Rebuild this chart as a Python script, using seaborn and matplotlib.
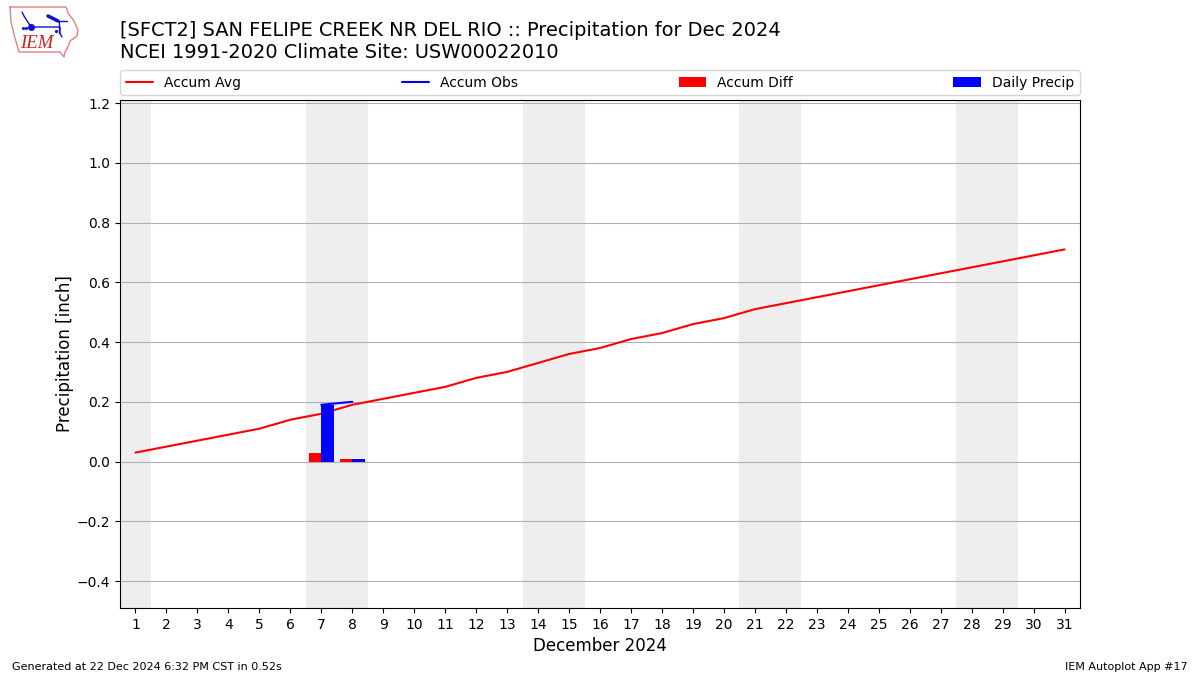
import numpy as np
from matplotlib import pyplot as plt
from matplotlib.lines import Line2D
from matplotlib.patches import Patch
import seaborn as sns

days = list(range(1, 32))
accum_avg = [0.03, 0.05, 0.07, 0.09, 0.11, 0.14, 0.16, 0.19, 0.21, 0.23, 0.25,
             0.28, 0.30, 0.33, 0.36, 0.38, 0.41, 0.43, 0.46, 0.48, 0.51, 0.53,
             0.55, 0.57, 0.59, 0.61, 0.63, 0.65, 0.67, 0.69, 0.71]
obs_days = [7, 8]
accum_obs = [0.19, 0.20]
diff_days = [7, 8]
accum_diff = [0.03, 0.01]
precip_days = [7, 8]
daily_precip = [0.19, 0.01]
weekends = [(0.5, 1.5), (6.5, 8.5), (13.5, 15.5), (20.5, 22.5), (27.5, 29.5)]
yticks = [-0.4, -0.2, 0.0, 0.2, 0.4, 0.6, 0.8, 1.0, 1.2]

# rough outline of the state logo, in pixels from the top left corner
logo_x = [10, 66, 68, 74, 78, 77, 70, 68, 65, 64, 60, 19, 15, 11, 10]
logo_y = [7, 7, 13, 21, 30, 36, 41, 47, 52, 57, 52, 52, 38, 22, 7]

sns.set_style("ticks", {"axes.edgecolor": "black", "text.color": "black",
                        "xtick.color": "black", "ytick.color": "black",
                        "axes.labelcolor": "black"})
plt.rcParams['font.family'] = ['DejaVu Sans']

fig = plt.figure(figsize=(12, 6.75), dpi=100)
ax = fig.add_axes([0.1, 0.0993, 0.8, 0.7525])

for start, end in weekends:
    ax.axvspan(start, end, color="#eeeeee", lw=0, zorder=0)
ax.set_axisbelow(True)
ax.yaxis.grid(True, color="#b0b0b0", lw=0.8, zorder=1)

sns.lineplot(x=days, y=accum_avg, color="red", lw=1.5, ax=ax, zorder=2)
ax.bar(np.array(diff_days) - 0.2, accum_diff, width=0.4, color="red", lw=0, zorder=3)
ax.bar(np.array(precip_days) + 0.2, daily_precip, width=0.4, color="blue", lw=0, zorder=3)
sns.lineplot(x=obs_days, y=accum_obs, color="blue", lw=1.5, ax=ax, zorder=4)

ax.set_xlim(0.5, 31.5)
ax.set_ylim(-0.49, 1.21)
ax.set_xticks(days)
ax.set_yticks(yticks)
ax.tick_params(labelsize=10)
ax.set_xlabel("December 2024", fontsize=12, labelpad=4)
ax.set_ylabel("Precipitation [inch]", fontsize=12, labelpad=2)

handles = [Line2D([], [], color="red", lw=1.5),
           Line2D([], [], color="blue", lw=1.5),
           Patch(color="red", lw=0), Patch(color="blue", lw=0)]
labels = ["Accum Avg", "Accum Obs", "Accum Diff", "Daily Precip"]
ax.legend(handles, labels, loc="lower left", bbox_to_anchor=(0, 1.0095, 1, 0.05),
          mode="expand", ncol=4, fontsize=10, borderaxespad=0, frameon=True)

fig.text(0.1, 0.9085, "[SFCT2] SAN FELIPE CREEK NR DEL RIO :: Precipitation for Dec 2024\n"
         "NCEI 1991-2020 Climate Site: USW00022010", fontsize=13.96, va="bottom", linespacing=1.2)
fig.text(0.01, 0.0075, "Generated at 22 Dec 2024 6:32 PM CST in 0.52s", fontsize=8)
fig.text(0.99, 0.0075, "IEM Autoplot App #17", fontsize=8, ha="right")

logo = fig.add_axes([0, 0.91, 0.07, 0.09])
logo.set_xlim(0, 84)
logo.set_ylim(60.75, 0)
logo.axis("off")
logo.plot(logo_x, logo_y, color="#e08080", lw=1)
logo.plot([22, 24, 31], [12, 16, 27], color="#1010d0", lw=1)
logo.plot([31, 60, 60, 62], [27, 27, 33, 37], color="#1010d0", lw=1)
logo.plot([48, 58], [16, 21], color="#1010d0", lw=2.5)
logo.plot([58, 67], [21, 21], color="#1010d0", lw=1)
logo.plot([59, 59], [21, 33], color="#1010d0", lw=1)
logo.plot([31], [27], "o", color="#1010d0", ms=4)
logo.plot([23, 26, 56], [28, 28, 31], ".", color="#1010d0", ms=2.5)
logo.text(37, 44, "IEM", color="#d02020", family="Liberation Serif", style="italic",
          fontsize=13.5, ha="center", va="center")

fig.savefig("out.png", dpi=100)
